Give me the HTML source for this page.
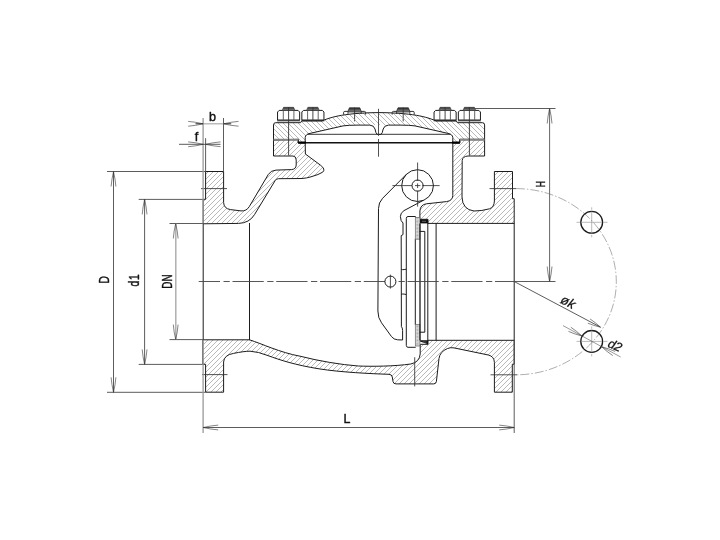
<!DOCTYPE html><html><head><meta charset="utf-8"><title>Swing check valve drawing</title><style>html,body{margin:0;padding:0;background:#fff}body{width:720px;height:540px;overflow:hidden}svg{display:block}text{-webkit-font-smoothing:antialiased}</style></head><body><svg width="720" height="540" viewBox="0 0 720 540"><rect width="720" height="540" fill="#fff"/><defs><linearGradient id="gb" x1="0" y1="0" x2="0" y2="1"><stop offset="0" stop-color="#2a2a2a"/><stop offset="1" stop-color="#8a8a8a"/></linearGradient><pattern id="dots" width="1.4" height="1.4" patternUnits="userSpaceOnUse"><rect width="1.4" height="1.4" fill="#dadada"/><rect width="0.7" height="0.7" fill="#a8a8a8"/></pattern><clipPath id="cUL"><path d="M203.2,223.4 L203.2,199.3 L205.6,199.3 L205.6,171.5 L223.6,171.5 L223.6,202.5 Q223.9,208.6 230.5,209.6 L241,210.9 Q246.5,211.3 249.3,206.6 L268.2,174.6 Q270.6,170.4 276,170.1 L291.5,169.6 Q296,169.3 296.2,165 L296.2,160 Q296.2,156.2 293,156 L273.5,156 L273.5,139.7 L298.2,139.7 L298.2,142.8 L305.2,142.8 L305.4,154 L320.5,165.2 Q326,169.4 322.6,172.2 Q319,174.6 311,176.8 Q306.5,178.2 302,178.5 L278.5,178.7 Q276.3,178.7 275,180.8 L254.5,214.6 Q249.5,223 239,223.4 Z"/></clipPath><clipPath id="cCOV"><path d="M273.5,139.7 L273.5,124.9 Q273.5,122.7 275.7,122.7 L300.6,122.7 L301.7,120.9 L322,120.9 C328,118.5 340,112.9 379,112.6 C418,112.9 430,118.5 436,120.9 L456.3,120.9 L457.4,122.7 L482.4,122.7 Q484.6,122.7 484.6,124.9 L484.6,139.7 L459.8,139.7 L459.8,142.8 L452.8,142.8 L452.8,137.5 Q452.6,134.3 448,133.4 L415,125.9 Q410,125.1 400,125.1 L388.5,125.1 Q384.2,125.3 383.2,129 Q382.4,133.5 381,134.4 L377.2,134.4 Q375.8,133.5 375,129 Q374,125.3 369.7,125.1 L358,125.1 Q348,125.1 343,125.9 L310,133.4 Q305.4,134.3 305.2,137.5 L305.2,142.8 L298.2,142.8 L298.2,139.7 Z"/></clipPath><clipPath id="cCOVH"><path d="M273.5,139.7 L273.5,124.9 Q273.5,122.7 275.7,122.7 L300.6,122.7 L301.7,120.9 L322,120.9 C328,118.5 340,112.9 379,112.6 C418,112.9 430,118.5 436,120.9 L456.3,120.9 L457.4,122.7 L482.4,122.7 Q484.6,122.7 484.6,124.9 L484.6,139.7 L459.8,139.7 L459.8,142.8 L452.8,142.8 L452.8,137.5 Q452.6,134.3 448,133.4 L415,125.9 Q410,125.1 400,125.1 L358,125.1 Q348,125.1 343,125.9 L310,133.4 Q305.4,134.3 305.2,137.5 L305.2,142.8 L298.2,142.8 L298.2,139.7 Z"/></clipPath><clipPath id="cUR"><path d="M484.6,139.7 L484.6,156 L468,156 Q462.6,156.3 462.2,160.5 L462,197 Q462.4,209.6 474,211 Q482,211 489.5,208.8 Q494.2,207.2 494.4,201 L494.4,171.5 L512.5,171.5 L512.5,198.7 L514.2,198.7 L514.2,223.4 L428,223.4 L428,219.3 L419.9,219.3 L419.9,211 Q420.3,204.6 426.5,203.8 L446.5,201.6 Q452.6,200.8 452.8,195.5 L452.8,142.8 L459.8,142.8 L459.8,139.7 Z"/></clipPath><clipPath id="cLO"><path d="M203.2,339.8 L249.5,339.8 C262,343.8 280,352.5 300,356.2 C320,361.2 340,364.6 358.3,366 C372,366.6 395,366.3 410.8,364 Q419.5,362.2 420.2,354 L420.2,344.3 L428,344.3 L428,340.3 L514.2,340.3 L514.2,364.2 L512.3,364.2 L512.3,392.2 L494.4,392.2 L494.4,362.5 Q494.2,356.4 488.3,355 L454,347.9 Q450.8,347.2 447.5,348.5 Q439.8,351.8 439,358.5 L436.4,381.5 Q436.1,383.9 433.7,383.9 L396,383.9 Q393.3,383.9 393,381.5 L392.3,377 Q391.8,374.4 389,374.3 C372,373.8 340,372.2 319.4,368.9 C295,365 280,360 268,355.6 Q258,351.6 250,351.2 Q244,351.2 233.5,353.4 Q224,355 223.6,362 L223.6,392.2 L205.6,392.2 L205.6,364.3 L203.2,364.3 Z"/></clipPath></defs><path d="M343.6,114.6 V112.5 Q343.6,111.4 344.8,111.4 H364.40000000000003 Q365.6,111.4 365.6,112.5 V114.6" fill="#fff" stroke="#1c1c1c" stroke-width="0.9"/><path d="M347.70000000000005,112 L349.40000000000003,107.8 H359.8 L361.5,112Z" stroke="#222" stroke-width="0.7" fill="url(#gb)"/><path d="M348.0,112V114M361.20000000000005,112V114" stroke="#333" stroke-width="0.8"/><path d="M354.6,107.6V121.4" stroke="#333" stroke-width="0.9"/><path d="M392.2,114.6 V112.5 Q392.2,111.4 393.4,111.4 H413.0 Q414.2,111.4 414.2,112.5 V114.6" fill="#fff" stroke="#1c1c1c" stroke-width="0.9"/><path d="M396.3,112 L398.0,107.8 H408.4 L410.09999999999997,112Z" stroke="#222" stroke-width="0.7" fill="url(#gb)"/><path d="M396.59999999999997,112V114M409.8,112V114" stroke="#333" stroke-width="0.8"/><path d="M403.2,107.6V121.4" stroke="#333" stroke-width="0.9"/><path clip-path="url(#cUL)" d="M104.0,226.0L195.0,135.0M109.0,226.0L200.0,135.0M114.0,226.0L205.0,135.0M119.0,226.0L210.0,135.0M124.0,226.0L215.0,135.0M129.0,226.0L220.0,135.0M134.0,226.0L225.0,135.0M139.0,226.0L230.0,135.0M144.0,226.0L235.0,135.0M149.0,226.0L240.0,135.0M154.0,226.0L245.0,135.0M159.0,226.0L250.0,135.0M164.0,226.0L255.0,135.0M169.0,226.0L260.0,135.0M174.0,226.0L265.0,135.0M179.0,226.0L270.0,135.0M184.0,226.0L275.0,135.0M189.0,226.0L280.0,135.0M194.0,226.0L285.0,135.0M199.0,226.0L290.0,135.0M204.0,226.0L295.0,135.0M209.0,226.0L300.0,135.0M214.0,226.0L305.0,135.0M219.0,226.0L310.0,135.0M224.0,226.0L315.0,135.0M229.0,226.0L320.0,135.0M234.0,226.0L325.0,135.0M239.0,226.0L330.0,135.0M244.0,226.0L335.0,135.0M249.0,226.0L340.0,135.0M254.0,226.0L345.0,135.0M259.0,226.0L350.0,135.0M264.0,226.0L355.0,135.0M269.0,226.0L360.0,135.0M274.0,226.0L365.0,135.0M279.0,226.0L370.0,135.0M284.0,226.0L375.0,135.0M289.0,226.0L380.0,135.0M294.0,226.0L385.0,135.0M299.0,226.0L390.0,135.0M304.0,226.0L395.0,135.0M309.0,226.0L400.0,135.0M314.0,226.0L405.0,135.0M319.0,226.0L410.0,135.0M324.0,226.0L415.0,135.0M329.0,226.0L420.0,135.0M334.0,226.0L425.0,135.0" stroke="#8a8a8a" stroke-width="0.6" fill="none"/><path clip-path="url(#cCOVH)" d="M230.0,110.0L265.0,145.0M235.0,110.0L270.0,145.0M240.0,110.0L275.0,145.0M245.0,110.0L280.0,145.0M250.0,110.0L285.0,145.0M255.0,110.0L290.0,145.0M260.0,110.0L295.0,145.0M265.0,110.0L300.0,145.0M270.0,110.0L305.0,145.0M275.0,110.0L310.0,145.0M280.0,110.0L315.0,145.0M285.0,110.0L320.0,145.0M290.0,110.0L325.0,145.0M295.0,110.0L330.0,145.0M300.0,110.0L335.0,145.0M305.0,110.0L340.0,145.0M310.0,110.0L345.0,145.0M315.0,110.0L350.0,145.0M320.0,110.0L355.0,145.0M325.0,110.0L360.0,145.0M330.0,110.0L365.0,145.0M335.0,110.0L370.0,145.0M340.0,110.0L375.0,145.0M345.0,110.0L380.0,145.0M350.0,110.0L385.0,145.0M355.0,110.0L390.0,145.0M360.0,110.0L395.0,145.0M365.0,110.0L400.0,145.0M370.0,110.0L405.0,145.0M375.0,110.0L410.0,145.0M380.0,110.0L415.0,145.0M385.0,110.0L420.0,145.0M390.0,110.0L425.0,145.0M395.0,110.0L430.0,145.0M400.0,110.0L435.0,145.0M405.0,110.0L440.0,145.0M410.0,110.0L445.0,145.0M415.0,110.0L450.0,145.0M420.0,110.0L455.0,145.0M425.0,110.0L460.0,145.0M430.0,110.0L465.0,145.0M435.0,110.0L470.0,145.0M440.0,110.0L475.0,145.0M445.0,110.0L480.0,145.0M450.0,110.0L485.0,145.0M455.0,110.0L490.0,145.0M460.0,110.0L495.0,145.0M465.0,110.0L500.0,145.0M470.0,110.0L505.0,145.0M475.0,110.0L510.0,145.0M480.0,110.0L515.0,145.0M485.0,110.0L520.0,145.0M490.0,110.0L525.0,145.0" stroke="#8a8a8a" stroke-width="0.6" fill="none"/><path clip-path="url(#cUR)" d="M319.0,226.0L410.0,135.0M324.0,226.0L415.0,135.0M329.0,226.0L420.0,135.0M334.0,226.0L425.0,135.0M339.0,226.0L430.0,135.0M344.0,226.0L435.0,135.0M349.0,226.0L440.0,135.0M354.0,226.0L445.0,135.0M359.0,226.0L450.0,135.0M364.0,226.0L455.0,135.0M369.0,226.0L460.0,135.0M374.0,226.0L465.0,135.0M379.0,226.0L470.0,135.0M384.0,226.0L475.0,135.0M389.0,226.0L480.0,135.0M394.0,226.0L485.0,135.0M399.0,226.0L490.0,135.0M404.0,226.0L495.0,135.0M409.0,226.0L500.0,135.0M414.0,226.0L505.0,135.0M419.0,226.0L510.0,135.0M424.0,226.0L515.0,135.0M429.0,226.0L520.0,135.0M434.0,226.0L525.0,135.0M439.0,226.0L530.0,135.0M444.0,226.0L535.0,135.0M449.0,226.0L540.0,135.0M454.0,226.0L545.0,135.0M459.0,226.0L550.0,135.0M464.0,226.0L555.0,135.0M469.0,226.0L560.0,135.0M474.0,226.0L565.0,135.0M479.0,226.0L570.0,135.0M484.0,226.0L575.0,135.0M489.0,226.0L580.0,135.0M494.0,226.0L585.0,135.0M499.0,226.0L590.0,135.0M504.0,226.0L595.0,135.0M509.0,226.0L600.0,135.0M514.0,226.0L605.0,135.0M519.0,226.0L610.0,135.0" stroke="#8a8a8a" stroke-width="0.6" fill="none"/><path clip-path="url(#cLO)" d="M139.0,394.0L195.0,338.0M144.0,394.0L200.0,338.0M149.0,394.0L205.0,338.0M154.0,394.0L210.0,338.0M159.0,394.0L215.0,338.0M164.0,394.0L220.0,338.0M169.0,394.0L225.0,338.0M174.0,394.0L230.0,338.0M179.0,394.0L235.0,338.0M184.0,394.0L240.0,338.0M189.0,394.0L245.0,338.0M194.0,394.0L250.0,338.0M199.0,394.0L255.0,338.0M204.0,394.0L260.0,338.0M209.0,394.0L265.0,338.0M214.0,394.0L270.0,338.0M219.0,394.0L275.0,338.0M224.0,394.0L280.0,338.0M229.0,394.0L285.0,338.0M234.0,394.0L290.0,338.0M239.0,394.0L295.0,338.0M244.0,394.0L300.0,338.0M249.0,394.0L305.0,338.0M254.0,394.0L310.0,338.0M259.0,394.0L315.0,338.0M264.0,394.0L320.0,338.0M269.0,394.0L325.0,338.0M274.0,394.0L330.0,338.0M279.0,394.0L335.0,338.0M284.0,394.0L340.0,338.0M289.0,394.0L345.0,338.0M294.0,394.0L350.0,338.0M299.0,394.0L355.0,338.0M304.0,394.0L360.0,338.0M309.0,394.0L365.0,338.0M314.0,394.0L370.0,338.0M319.0,394.0L375.0,338.0M324.0,394.0L380.0,338.0M329.0,394.0L385.0,338.0M334.0,394.0L390.0,338.0M339.0,394.0L395.0,338.0M344.0,394.0L400.0,338.0M349.0,394.0L405.0,338.0M354.0,394.0L410.0,338.0M359.0,394.0L415.0,338.0M364.0,394.0L420.0,338.0M369.0,394.0L425.0,338.0M374.0,394.0L430.0,338.0M379.0,394.0L435.0,338.0M384.0,394.0L440.0,338.0M389.0,394.0L445.0,338.0M394.0,394.0L450.0,338.0M399.0,394.0L455.0,338.0M404.0,394.0L460.0,338.0M409.0,394.0L465.0,338.0M414.0,394.0L470.0,338.0M419.0,394.0L475.0,338.0M424.0,394.0L480.0,338.0M429.0,394.0L485.0,338.0M434.0,394.0L490.0,338.0M439.0,394.0L495.0,338.0M444.0,394.0L500.0,338.0M449.0,394.0L505.0,338.0M454.0,394.0L510.0,338.0M459.0,394.0L515.0,338.0M464.0,394.0L520.0,338.0M469.0,394.0L525.0,338.0M474.0,394.0L530.0,338.0M479.0,394.0L535.0,338.0M484.0,394.0L540.0,338.0M489.0,394.0L545.0,338.0M494.0,394.0L550.0,338.0M499.0,394.0L555.0,338.0M504.0,394.0L560.0,338.0M509.0,394.0L565.0,338.0M514.0,394.0L570.0,338.0M519.0,394.0L575.0,338.0" stroke="#8a8a8a" stroke-width="0.6" fill="none"/><path d="M203.2,223.4 L203.2,199.3 L205.6,199.3 L205.6,171.5 L223.6,171.5 L223.6,202.5 Q223.9,208.6 230.5,209.6 L241,210.9 Q246.5,211.3 249.3,206.6 L268.2,174.6 Q270.6,170.4 276,170.1 L291.5,169.6 Q296,169.3 296.2,165 L296.2,160 Q296.2,156.2 293,156 L273.5,156 L273.5,139.7 L298.2,139.7 L298.2,142.8 L305.2,142.8 L305.4,154 L320.5,165.2 Q326,169.4 322.6,172.2 Q319,174.6 311,176.8 Q306.5,178.2 302,178.5 L278.5,178.7 Q276.3,178.7 275,180.8 L254.5,214.6 Q249.5,223 239,223.4 Z" stroke="#1c1c1c" stroke-width="1" fill="none" stroke-linejoin="round" stroke-linecap="round"/><path d="M273.5,139.7 L273.5,124.9 Q273.5,122.7 275.7,122.7 L300.6,122.7 L301.7,120.9 L322,120.9 C328,118.5 340,112.9 379,112.6 C418,112.9 430,118.5 436,120.9 L456.3,120.9 L457.4,122.7 L482.4,122.7 Q484.6,122.7 484.6,124.9 L484.6,139.7 L459.8,139.7 L459.8,142.8 L452.8,142.8 L452.8,137.5 Q452.6,134.3 448,133.4 L415,125.9 Q410,125.1 400,125.1 L388.5,125.1 Q384.2,125.3 383.2,129 Q382.4,133.5 381,134.4 L377.2,134.4 Q375.8,133.5 375,129 Q374,125.3 369.7,125.1 L358,125.1 Q348,125.1 343,125.9 L310,133.4 Q305.4,134.3 305.2,137.5 L305.2,142.8 L298.2,142.8 L298.2,139.7 Z" stroke="#1c1c1c" stroke-width="1" fill="none" stroke-linejoin="round" stroke-linecap="round"/><path d="M484.6,139.7 L484.6,156 L468,156 Q462.6,156.3 462.2,160.5 L462,197 Q462.4,209.6 474,211 Q482,211 489.5,208.8 Q494.2,207.2 494.4,201 L494.4,171.5 L512.5,171.5 L512.5,198.7 L514.2,198.7 L514.2,223.4 L428,223.4 L428,219.3 L419.9,219.3 L419.9,211 Q420.3,204.6 426.5,203.8 L446.5,201.6 Q452.6,200.8 452.8,195.5 L452.8,142.8 L459.8,142.8 L459.8,139.7 Z" stroke="#1c1c1c" stroke-width="1" fill="none" stroke-linejoin="round" stroke-linecap="round"/><path d="M203.2,339.8 L249.5,339.8 C262,343.8 280,352.5 300,356.2 C320,361.2 340,364.6 358.3,366 C372,366.6 395,366.3 410.8,364 Q419.5,362.2 420.2,354 L420.2,344.3 L428,344.3 L428,340.3 L514.2,340.3 L514.2,364.2 L512.3,364.2 L512.3,392.2 L494.4,392.2 L494.4,362.5 Q494.2,356.4 488.3,355 L454,347.9 Q450.8,347.2 447.5,348.5 Q439.8,351.8 439,358.5 L436.4,381.5 Q436.1,383.9 433.7,383.9 L396,383.9 Q393.3,383.9 393,381.5 L392.3,377 Q391.8,374.4 389,374.3 C372,373.8 340,372.2 319.4,368.9 C295,365 280,360 268,355.6 Q258,351.6 250,351.2 Q244,351.2 233.5,353.4 Q224,355 223.6,362 L223.6,392.2 L205.6,392.2 L205.6,364.3 L203.2,364.3 Z" stroke="#1c1c1c" stroke-width="1" fill="none" stroke-linejoin="round" stroke-linecap="round"/><path d="M273.5,139.8H298.2M459.8,139.8H484.6" stroke="#858585" stroke-width="2" fill="none"/><path d="M298.2,142.8H459.8" stroke="#111" stroke-width="1.5" fill="none"/><path d="M298.2,142.6H306M452,142.6H459.8" stroke="#000" stroke-width="2" fill="none"/><path d="M307.5,134.3H450.5" stroke="#222" stroke-width="0.9" fill="none"/><path d="M249.5,223.4V339.8" stroke="#1c1c1c" stroke-width="1" fill="none" stroke-linejoin="round" stroke-linecap="round"/><path d="M203.2,223.4V339.8" stroke="#1c1c1c" stroke-width="1" fill="none" stroke-linejoin="round" stroke-linecap="round"/><path d="M514.2,223.4V340.3" stroke="#1c1c1c" stroke-width="1" fill="none" stroke-linejoin="round" stroke-linecap="round"/><circle cx="417.6" cy="185.6" r="15.9" stroke="#1c1c1c" stroke-width="1" fill="none" stroke-linejoin="round" stroke-linecap="round"/><circle cx="417.6" cy="185.6" r="5.6" stroke="#1c1c1c" stroke-width="1" fill="none" stroke-linejoin="round" stroke-linecap="round"/><path d="M406.2,174.5 L382.6,198.3 Q378.5,202.6 378.5,208.5 L377.9,311 Q377.9,318 381.5,322.8 L391.5,336.6 Q393.8,339.6 397.5,339.8 L402.6,340 L402.6,330.5 Q402.5,327.6 401.4,326.6 L401.2,235.6 L403,234.6 L403,223 Q400.6,221.5 400.4,216.5 Q400.4,212.8 404,210.6 L423.2,200.4" stroke="#1c1c1c" stroke-width="1" fill="none" stroke-linejoin="round" stroke-linecap="round"/><path d="M401.2,269.3 Q401.6,270.2 405.8,269.3 M401.2,294.4 Q401.6,293.4 405.8,294.4" stroke="#1c1c1c" stroke-width="1" fill="none" stroke-linejoin="round" stroke-linecap="round"/><path d="M415.3,216.5 L408,216.5 Q406.3,216.6 406.3,218.4 L406.3,345.4 Q406.3,347.2 408,347.3 L415.3,347.3" stroke="#1c1c1c" stroke-width="1" fill="none" stroke-linejoin="round" stroke-linecap="round"/><path d="M415.3,239.2V324.4" stroke="#1c1c1c" stroke-width="1" fill="none" stroke-linejoin="round" stroke-linecap="round"/><rect x="415.3" y="217.5" width="4.6" height="21.7" fill="url(#dots)" stroke="#666" stroke-width="0.7"/><rect x="415.3" y="324.4" width="4.6" height="21.6" fill="url(#dots)" stroke="#666" stroke-width="0.7"/><path d="M420,223.4V340.3" stroke="#1c1c1c" stroke-width="1.3" fill="none"/><path d="M420,231.4H424.8V332.2H420" stroke="#1c1c1c" stroke-width="1" fill="none" stroke-linejoin="round" stroke-linecap="round"/><path d="M427.8,223.4V340.3M436.1,223.4V340.3" stroke="#1c1c1c" stroke-width="1" fill="none" stroke-linejoin="round" stroke-linecap="round"/><path d="M420,219.3H428V223.4H420Z" fill="#111"/><path d="M420,340.3H428V344.3L420,341.6Z" fill="#111"/><path d="M422,221.3h4M422.5,342h4" stroke="#999" stroke-width="0.6"/><path d="M277.55,120 V112 L279.15000000000003,110.4 H298.05 L299.65000000000003,112 V120 Z" fill="#fff" stroke="#1c1c1c" stroke-width="1" stroke-linejoin="round"/><path d="M277.15000000000003,120.8H300.05" stroke="#1c1c1c" stroke-width="0.9"/><path d="M283.3,110.6V120M293.90000000000003,110.6V120" stroke="#555" stroke-width="0.9"/><path d="M282.20000000000005,110.4 L283.6,107.3 H293.6 L295.0,110.4Z" stroke="#333" stroke-width="0.6" fill="url(#gb)"/><path d="M288.6,107V155.5" stroke="#333" stroke-width="0.9"/><path d="M301.84999999999997,120 V112 L303.45,110.4 H322.34999999999997 L323.95,112 V120 Z" fill="#fff" stroke="#1c1c1c" stroke-width="1" stroke-linejoin="round"/><path d="M301.45,120.8H324.34999999999997" stroke="#1c1c1c" stroke-width="0.9"/><path d="M307.59999999999997,110.6V120M318.2,110.6V120" stroke="#555" stroke-width="0.9"/><path d="M306.5,110.4 L307.9,107.3 H317.9 L319.29999999999995,110.4Z" stroke="#333" stroke-width="0.6" fill="url(#gb)"/><path d="M312.9,107V121" stroke="#333" stroke-width="0.9"/><path d="M434.05,120 V112 L435.65000000000003,110.4 H454.55 L456.15000000000003,112 V120 Z" fill="#fff" stroke="#1c1c1c" stroke-width="1" stroke-linejoin="round"/><path d="M433.65000000000003,120.8H456.55" stroke="#1c1c1c" stroke-width="0.9"/><path d="M439.8,110.6V120M450.40000000000003,110.6V120" stroke="#555" stroke-width="0.9"/><path d="M438.70000000000005,110.4 L440.1,107.3 H450.1 L451.5,110.4Z" stroke="#333" stroke-width="0.6" fill="url(#gb)"/><path d="M445.1,107V121" stroke="#333" stroke-width="0.9"/><path d="M458.34999999999997,120 V112 L459.95,110.4 H478.84999999999997 L480.45,112 V120 Z" fill="#fff" stroke="#1c1c1c" stroke-width="1" stroke-linejoin="round"/><path d="M457.95,120.8H480.84999999999997" stroke="#1c1c1c" stroke-width="0.9"/><path d="M464.09999999999997,110.6V120M474.7,110.6V120" stroke="#555" stroke-width="0.9"/><path d="M463.0,110.4 L464.4,107.3 H474.4 L475.79999999999995,110.4Z" stroke="#333" stroke-width="0.6" fill="url(#gb)"/><path d="M469.4,107V155.5" stroke="#333" stroke-width="0.9"/><path d="M198.7,281.5H515.5" stroke="#444" stroke-width="0.9" stroke-dasharray="31.25,3.5,6.25,2.75" stroke-dashoffset="9.95" fill="none"/><circle cx="390.4" cy="281.6" r="5.5" fill="#fff" stroke="#1c1c1c" stroke-width="1"/><path d="M390.4,274.6V288.6" stroke="#333" stroke-width="0.85" fill="none"/><path d="M378.5,108.8V135.9M378.5,139V156.7" stroke="#333" stroke-width="0.85" fill="none"/><path d="M392.4,185.6H412M415,185.6H420.4M423.4,185.6H439.6M417.6,162.5V181M417.6,183.4V188M417.6,190.6V206.6" stroke="#333" stroke-width="0.85" fill="none"/><path d="M414.7,357.2V386.4" stroke="#333" stroke-width="0.85" fill="none"/><path d="M201,188.6H227M202,374.6H227.5M489.5,188.6H516M490.5,374.8H517" stroke="#333" stroke-width="0.85" fill="none"/><path d="M516,188.6 A100.2,93 0 0 1 516,374.8" stroke="#777" stroke-width="0.6" stroke-dasharray="9,2,1.5,2" fill="none"/><circle cx="591.7" cy="222.3" r="10.9" stroke="#1c1c1c" stroke-width="1.3" fill="none"/><path d="M576.5,222.3H580M581.5,222.3H602M603.5,222.3H607.5M591.7,207.3V209.8M591.7,211.3V233.3M591.7,234.8V237.3" stroke="#8c8c8c" stroke-width="0.6"/><circle cx="591.7" cy="341.4" r="10.9" stroke="#1c1c1c" stroke-width="1.3" fill="none"/><path d="M576.5,341.4H580M581.5,341.4H602M603.5,341.4H607.5M591.7,326.4V328.9M591.7,330.4V352.4M591.7,353.9V356.4" stroke="#8c8c8c" stroke-width="0.6"/><path d="M107,171.5H205.6M107,392.3H205.6M113.5,171.5V392.3" stroke="#4a4a4a" stroke-width="0.9" fill="none"/><path d="M115.9,186.5 Q115.3,179.0 113.5,171.5 Q111.7,179.0 111.1,186.5" stroke="#333" stroke-width="0.6" fill="none"/><path d="M111.1,377.3 Q111.7,384.8 113.5,392.3 Q115.3,384.8 115.9,377.3" stroke="#333" stroke-width="0.6" fill="none"/><path d="M138.7,199.4H203.2M138.7,364.4H203.2M144.6,199.4V364.4" stroke="#4a4a4a" stroke-width="0.9" fill="none"/><path d="M147.0,214.4 Q146.4,206.9 144.6,199.4 Q142.8,206.9 142.2,214.4" stroke="#333" stroke-width="0.6" fill="none"/><path d="M142.2,349.4 Q142.8,356.9 144.6,364.4 Q146.4,356.9 147.0,349.4" stroke="#333" stroke-width="0.6" fill="none"/><path d="M169.5,223.5H203.2M169.5,339.6H203.2" stroke="#4a4a4a" stroke-width="0.9" fill="none"/><path d="M175.8,223.5V339.6" stroke="#aaa" stroke-width="1.4" fill="none"/><path d="M178.1,238.5 Q177.5,231.0 175.7,223.5 Q173.9,231.0 173.3,238.5" stroke="#333" stroke-width="0.6" fill="none"/><path d="M173.3,324.6 Q173.9,332.1 175.7,339.6 Q177.5,332.1 178.1,324.6" stroke="#333" stroke-width="0.6" fill="none"/><path d="M203.1,339.8V433" stroke="#999" stroke-width="1.3" fill="none"/><path d="M203.1,118V223.4" stroke="#999" stroke-width="1.3" fill="none"/><path d="M514.2,340.3V433" stroke="#4a4a4a" stroke-width="0.9" fill="none"/><path d="M203.2,427.5H514.2" stroke="#4a4a4a" stroke-width="0.9" fill="none"/><path d="M218.2,425.1 Q210.7,425.7 203.2,427.5 Q210.7,429.3 218.2,429.9" stroke="#333" stroke-width="0.6" fill="none"/><path d="M499.2,429.9 Q506.7,429.3 514.2,427.5 Q506.7,425.7 499.2,425.1" stroke="#333" stroke-width="0.6" fill="none"/><path d="M223.5,118V172M205.6,138.2V172" stroke="#4a4a4a" stroke-width="0.9" fill="none"/><path d="M195.5,123.8H203.2M223.5,123.8H231.2" stroke="#333" stroke-width="1.1" fill="none"/><path d="M203.2,123.8H223.5" stroke="#aaa" stroke-width="1.2" fill="none"/><path d="M188.2,126.2 Q195.7,125.6 203.2,123.8 Q195.7,122.0 188.2,121.4" stroke="#333" stroke-width="0.6" fill="none"/><path d="M238.5,121.4 Q231.0,122.0 223.5,123.8 Q231.0,125.6 238.5,126.2" stroke="#333" stroke-width="0.6" fill="none"/><path d="M179,144.3H220.5" stroke="#4a4a4a" stroke-width="0.9" fill="none"/><path d="M188.2,146.7 Q195.7,146.1 203.2,144.3 Q195.7,142.5 188.2,141.9" stroke="#333" stroke-width="0.6" fill="none"/><path d="M220.6,141.9 Q213.1,142.5 205.6,144.3 Q213.1,146.1 220.6,146.7" stroke="#333" stroke-width="0.6" fill="none"/><path d="M473.6,108.5H555.5M514.2,281.5H555.5" stroke="#4a4a4a" stroke-width="0.9" fill="none"/><path d="M549.6,108.5V281.5" stroke="#666" stroke-width="1" fill="none"/><path d="M552.0,123.5 Q551.4,116.0 549.6,108.5 Q547.8,116.0 547.2,123.5" stroke="#333" stroke-width="0.6" fill="none"/><path d="M547.2,266.5 Q547.8,274.0 549.6,281.5 Q551.4,274.0 552.0,266.5" stroke="#333" stroke-width="0.6" fill="none"/><path d="M514.2,281.5L600.5,327.2" stroke="#4a4a4a" stroke-width="0.9" fill="none"/><path d="M587.9,323.2 Q593.9,325.7 600.5,327.2 Q595.6,322.6 590.1,319.0" stroke="#333" stroke-width="0.6" fill="none"/><path d="M563,325.6L620.6,357" stroke="#555" stroke-width="0.6" fill="none"/><path d="M568.5,331.4 Q574.9,334.2 581.9,336.0 Q576.6,331.1 570.8,327.2" stroke="#333" stroke-width="0.6" fill="none"/><path d="M615.1,351.4 Q608.7,348.6 601.7,346.8 Q607.0,351.7 612.8,355.6" stroke="#333" stroke-width="0.6" fill="none"/><g opacity="0.995"><text transform="translate(108.7,279.8) rotate(-90) scale(0.74,1)" text-anchor="middle" font-size="13.8" letter-spacing="0" font-family="Liberation Sans, Arial, sans-serif" fill="#111" stroke="#111" stroke-width="0.42" stroke-linejoin="round">D</text><text transform="translate(139.1,279.9) rotate(-90) scale(0.74,1)" text-anchor="middle" font-size="13.8" letter-spacing="1.3" font-family="Liberation Sans, Arial, sans-serif" fill="#111" stroke="#111" stroke-width="0.42" stroke-linejoin="round">d1</text><text transform="translate(172,281.5) rotate(-90) scale(0.72,1)" text-anchor="middle" font-size="13.8" letter-spacing="0" font-family="Liberation Sans, Arial, sans-serif" fill="#111" stroke="#111" stroke-width="0.42" stroke-linejoin="round">DN</text><text transform="translate(545,184.2) rotate(-90) scale(0.68,1)" text-anchor="middle" font-size="12.8" letter-spacing="0" font-family="Liberation Sans, Arial, sans-serif" fill="#111" stroke="#111" stroke-width="0.42" stroke-linejoin="round">H</text><text x="212.6" y="120.6" text-anchor="middle" font-size="12.6" font-family="Liberation Sans, Arial, sans-serif" fill="#111" stroke="#111" stroke-width="0.42" stroke-linejoin="round">b</text><text x="196.5" y="140.5" text-anchor="middle" font-size="12.6" font-family="Liberation Sans, Arial, sans-serif" fill="#111" stroke="#111" stroke-width="0.42" stroke-linejoin="round">f</text><text x="346.9" y="423" text-anchor="middle" font-size="12.4" font-family="Liberation Sans, Arial, sans-serif" fill="#111" stroke="#111" stroke-width="0.42" stroke-linejoin="round">L</text><text transform="translate(566.1,306) rotate(27.5)" text-anchor="middle" font-size="13.2" font-family="Liberation Sans, Arial, sans-serif" font-style="italic" fill="#111" stroke="#111" stroke-width="0.25">øk</text><text transform="translate(613.3,349.3) rotate(24)" text-anchor="middle" font-size="12.6" font-family="Liberation Sans, Arial, sans-serif" font-style="italic" fill="#111" stroke="#111" stroke-width="0.25">d2</text></g></svg></body></html>
